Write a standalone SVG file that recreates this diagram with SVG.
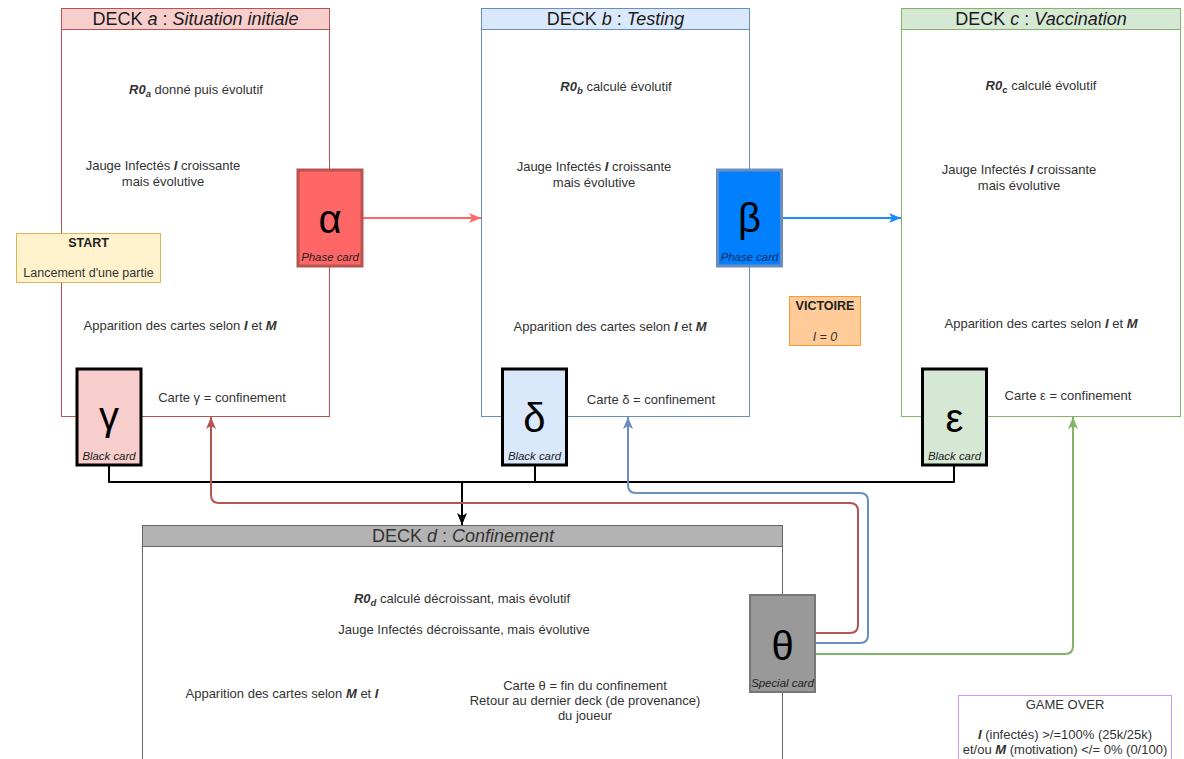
<svg xmlns="http://www.w3.org/2000/svg" width="1184" height="759" viewBox="0 0 1184 759">
<style>
text{font-family:"Liberation Sans",Arial,Helvetica,sans-serif;}
.t{font-size:13px;fill:#333;text-anchor:middle;}
.s{font-size:12.5px;}
.h{font-size:18px;fill:#1a1a1a;text-anchor:middle;}
.bi{font-weight:bold;font-style:italic;}
.i{font-style:italic;}
.b{font-weight:bold;}
.g{font-size:40px;fill:#000;text-anchor:middle;}
.cl{font-size:11.4px;font-style:italic;fill:#222;text-anchor:middle;}
.body{fill:#fff;}
.conn{fill:none;stroke-width:2;stroke-linejoin:round;}
</style>
<defs>
<marker id="ar" viewBox="0 0 12 10" refX="12" refY="5" markerWidth="12" markerHeight="10" markerUnits="userSpaceOnUse" orient="auto"><path d="M0,0 L12,5 L0,10 L3,5 z" fill="#ff6666"/></marker>
<marker id="ab" viewBox="0 0 12 10" refX="12" refY="5" markerWidth="12" markerHeight="10" markerUnits="userSpaceOnUse" orient="auto"><path d="M0,0 L12,5 L0,10 L3,5 z" fill="#1a8cff"/></marker>
<marker id="ak" viewBox="0 0 12 10" refX="12" refY="5" markerWidth="12" markerHeight="10" markerUnits="userSpaceOnUse" orient="auto"><path d="M0,0 L12,5 L0,10 L3,5 z" fill="#000"/></marker>
<marker id="adr" viewBox="0 0 12 10" refX="12" refY="5" markerWidth="12" markerHeight="10" markerUnits="userSpaceOnUse" orient="auto"><path d="M0,0 L12,5 L0,10 L3,5 z" fill="#b85450"/></marker>
<marker id="adb" viewBox="0 0 12 10" refX="12" refY="5" markerWidth="12" markerHeight="10" markerUnits="userSpaceOnUse" orient="auto"><path d="M0,0 L12,5 L0,10 L3,5 z" fill="#6c8ebf"/></marker>
<marker id="adg" viewBox="0 0 12 10" refX="12" refY="5" markerWidth="12" markerHeight="10" markerUnits="userSpaceOnUse" orient="auto"><path d="M0,0 L12,5 L0,10 L3,5 z" fill="#82b366"/></marker>
</defs>
<rect width="1184" height="759" fill="#fff"/>

<g id="deck-a">
<rect class="body" x="61.5" y="8.5" width="268" height="408" stroke="#b85450"/>
<rect x="61.5" y="8.5" width="268" height="21" fill="#f8cecc" stroke="#b85450"/>
<text class="h" x="195.5" y="25">DECK <tspan class="i">a</tspan> : <tspan class="i">Situation initiale</tspan></text>
<text class="t" x="196" y="94"><tspan class="bi">R0</tspan><tspan class="bi" font-size="9.5" dy="3">a</tspan><tspan dy="-3"> donné puis évolutif</tspan></text>
<text class="t" x="163" y="170">Jauge Infectés <tspan class="bi">I</tspan> croissante</text>
<text class="t" x="163" y="186">mais évolutive</text>
<text class="t" x="180" y="330">Apparition des cartes selon <tspan class="bi">I</tspan> et <tspan class="bi">M</tspan></text>
<text class="t" x="222" y="402">Carte γ = confinement</text>
</g>

<g id="deck-b">
<rect class="body" x="481.5" y="8.5" width="268" height="408" stroke="#6c8ebf"/>
<rect x="481.5" y="8.5" width="268" height="21" fill="#dae8fc" stroke="#6c8ebf"/>
<text class="h" x="615.5" y="25">DECK <tspan class="i">b</tspan> : <tspan class="i">Testing</tspan></text>
<text class="t" x="616" y="91"><tspan class="bi">R0</tspan><tspan class="bi" font-size="9.5" dy="3">b</tspan><tspan dy="-3"> calculé évolutif</tspan></text>
<text class="t" x="594" y="171">Jauge Infectés <tspan class="bi">I</tspan> croissante</text>
<text class="t" x="594" y="187">mais évolutive</text>
<text class="t" x="610" y="331">Apparition des cartes selon <tspan class="bi">I</tspan> et <tspan class="bi">M</tspan></text>
<text class="t" x="651" y="404">Carte δ = confinement</text>
</g>

<g id="deck-c">
<rect class="body" x="901.5" y="8.5" width="279" height="408" stroke="#82b366"/>
<rect x="901.5" y="8.5" width="279" height="21" fill="#d5e8d4" stroke="#82b366"/>
<text class="h" x="1041" y="25">DECK <tspan class="i">c</tspan> : <tspan class="i">Vaccination</tspan></text>
<text class="t" x="1041" y="90"><tspan class="bi">R0</tspan><tspan class="bi" font-size="9.5" dy="3">c</tspan><tspan dy="-3"> calculé évolutif</tspan></text>
<text class="t" x="1019" y="174">Jauge Infectés <tspan class="bi">I</tspan> croissante</text>
<text class="t" x="1019" y="190">mais évolutive</text>
<text class="t" x="1041" y="328">Apparition des cartes selon <tspan class="bi">I</tspan> et <tspan class="bi">M</tspan></text>
<text class="t" x="1068" y="400">Carte ε = confinement</text>
</g>

<g id="deck-d">
<rect class="body" x="142.5" y="525.5" width="640" height="250" stroke="#666"/>
<rect x="142.5" y="525.5" width="640" height="21" fill="#b3b3b3" stroke="#666"/>
<text class="h" x="463" y="542" style="fill:#333">DECK <tspan class="i">d</tspan> : <tspan class="i">Confinement</tspan></text>
<text class="t" x="462" y="603"><tspan class="bi">R0</tspan><tspan class="bi" font-size="9.5" dy="3">d</tspan><tspan dy="-3"> calculé décroissant, mais évolutif</tspan></text>
<text class="t" x="464" y="634">Jauge Infectés décroissante, mais évolutive</text>
<text class="t" x="282" y="698">Apparition des cartes selon <tspan class="bi">M</tspan> et <tspan class="bi">I</tspan></text>
<text class="t" x="585" y="690">Carte θ = fin du confinement</text>
<text class="t" x="585" y="705">Retour au dernier deck (de provenance)</text>
<text class="t" x="585" y="720">du joueur</text>
</g>

<g id="connectors">
<path class="conn" d="M363,218 H481" stroke="#ff6666" marker-end="url(#ar)"/>
<path class="conn" d="M783,218 H901" stroke="#1a8cff" marker-end="url(#ab)"/>
<path class="conn" d="M109,466 V482 H954 V466" stroke="#000"/>
<path class="conn" d="M535,466 V482" stroke="#000"/>
<path class="conn" d="M462,482 V525" stroke="#000" marker-end="url(#ak)"/>
<path class="conn" d="M816,633 H850 Q858,633 858,625 V511 Q858,503 850,503 H219 Q211,503 211,495 V417" stroke="#b85450" marker-end="url(#adr)"/>
<path class="conn" d="M816,643 H860 Q868,643 868,635 V501 Q868,493 860,493 H636 Q628,493 628,485 V417" stroke="#6c8ebf" marker-end="url(#adb)"/>
<path class="conn" d="M816,654 H1065 Q1073,654 1073,646 V417" stroke="#82b366" marker-end="url(#adg)"/>
</g>

<g id="card-alpha">
<rect x="298" y="170" width="64" height="96" fill="#ff6666" stroke="#b85450" stroke-width="3"/>
<text class="g" x="330" y="233">α</text>
<text class="cl" x="330" y="261">Phase card</text>
</g>
<g id="card-beta">
<rect x="717.5" y="170" width="64" height="96" fill="#007fff" stroke="#6c8ebf" stroke-width="3"/>
<text class="g" x="749.5" y="232">β</text>
<text class="cl" x="749.5" y="261" style="fill:#0a2a55">Phase card</text>
</g>
<g id="card-gamma">
<rect x="77" y="369" width="64" height="96" fill="#f8cecc" stroke="#000" stroke-width="3"/>
<text class="g" x="109" y="430">γ</text>
<text class="cl" x="109" y="460">Black card</text>
</g>
<g id="card-delta">
<rect x="502.5" y="369" width="64" height="96" fill="#dae8fc" stroke="#000" stroke-width="3"/>
<text class="g" x="534.5" y="432">δ</text>
<text class="cl" x="534.5" y="460">Black card</text>
</g>
<g id="card-epsilon">
<rect x="922.5" y="369" width="64" height="96" fill="#d5e8d4" stroke="#000" stroke-width="3"/>
<text class="g" x="954.5" y="432">ε</text>
<text class="cl" x="954.5" y="460">Black card</text>
</g>
<g id="card-theta">
<rect x="750" y="595" width="65" height="97" fill="#999999" stroke="#777" stroke-width="2"/>
<text class="g" x="782.5" y="660">θ</text>
<text class="cl" x="782.5" y="687">Special card</text>
</g>

<g id="start">
<rect x="16.5" y="233.5" width="144" height="49" fill="#fff2cc" stroke="#d6b656"/>
<text class="t s b" x="88.5" y="247" style="fill:#222">START</text>
<text class="t s" x="88.5" y="277">Lancement d'une partie</text>
</g>
<g id="victoire">
<rect x="789.5" y="296.5" width="71" height="49" fill="#ffcc99" stroke="#ff9933"/>
<text class="t s b" x="825" y="310" style="fill:#222">VICTOIRE</text>
<text class="t s i" x="825" y="341">I = 0</text>
</g>
<g id="game-over">
<rect x="958.5" y="695.5" width="213" height="80" fill="#fff" stroke="#cc99ff"/>
<text class="t" x="1065" y="709">GAME OVER</text>
<text class="t" x="1065" y="739"><tspan class="bi">I</tspan> (infectés) &gt;/=100% (25k/25k)</text>
<text class="t" x="1065" y="754">et/ou <tspan class="bi">M</tspan> (motivation) &lt;/= 0% (0/100)</text>
</g>
</svg>
